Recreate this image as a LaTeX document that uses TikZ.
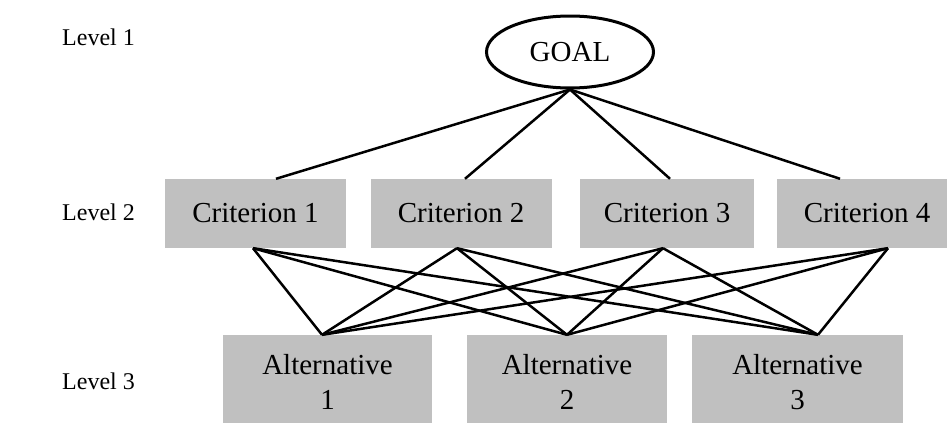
\documentclass[tikz,border=0pt]{standalone}
\usepackage{fontspec}
\setmainfont{Liberation Serif}
\usetikzlibrary{shapes.geometric}
\definecolor{boxgray}{RGB}{192,192,192}
\begin{document}
\begin{tikzpicture}[x=1pt,y=-1pt,
  crit/.style={fill=boxgray, minimum width=181pt, minimum height=69pt, inner sep=0pt, font=\fontsize{29}{34}\selectfont},
  alt/.style={fill=boxgray, minimum width=207pt, minimum height=88pt, inner sep=0pt, align=center, font=\fontsize{29}{35}\selectfont},
  lvl/.style={anchor=west, inner sep=0pt, font=\fontsize{24}{28}\selectfont},
  link/.style={line width=2.5pt, black}
]
\clip (0,0) rectangle (947,423);
\fill[white] (0,0) rectangle (947,423);

% levels
\node[lvl] (l1) at (62,37) {Level 1};
\node[lvl] (l2) at (62,212) {Level 2};
\node[lvl] (l3) at (62,381) {Level 3};

% goal
\node[ellipse, draw, line width=3pt, minimum width=167pt, minimum height=72pt, inner sep=0pt,
      font=\fontsize{29}{34}\selectfont] (goal) at (570,52) {GOAL};

% criteria
\node[crit] (c1) at (255.5,213.5) {Criterion 1};
\node[crit] (c2) at (461,213.5) {Criterion 2};
\node[crit, minimum width=174pt] (c3) at (667,213.5) {Criterion 3};
\node[crit, minimum width=180pt] (c4) at (867,213.5) {Criterion 4};

% alternatives
\node[alt, minimum width=209pt] (a1) at (327.5,379) {};
\node[alt, minimum width=200pt] (a2) at (567,379) {};
\node[alt, minimum width=211pt] (a3) at (797.5,379) {};
\node[align=center, inner sep=0pt, font=\fontsize{29}{35}\selectfont] (a1x) at ([yshift=-3pt]a1.center) {Alternative\\1};
\node[align=center, inner sep=0pt, font=\fontsize{29}{35}\selectfont] (a2x) at ([yshift=-3pt]a2.center) {Alternative\\2};
\node[align=center, inner sep=0pt, font=\fontsize{29}{35}\selectfont] (a3x) at ([yshift=-3pt]a3.center) {Alternative\\3};

% attach points
\coordinate (c1t) at ([xshift=20.5pt]c1.north);
\coordinate (c2t) at ([xshift=4pt]c2.north);
\coordinate (c3t) at ([xshift=3pt]c3.north);
\coordinate (c4t) at ([xshift=-27pt]c4.north);
\coordinate (c1b) at ([xshift=-2.5pt]c1.south);
\coordinate (c2b) at ([xshift=-4pt]c2.south);
\coordinate (c3b) at ([xshift=-4pt]c3.south);
\coordinate (c4b) at ([xshift=21pt]c4.south);
\coordinate (a1t) at ([xshift=-5.5pt]a1.north);
\coordinate (a2t) at (a2.north);
\coordinate (a3t) at ([xshift=20.5pt]a3.north);

% goal to criteria
\foreach \c in {c1t,c2t,c3t,c4t}
  \draw[link] (goal.south) -- (\c);

% criteria to alternatives
\foreach \c in {c1b,c2b,c3b,c4b}
  \foreach \a in {a1t,a2t,a3t}
    \draw[link] (\c) -- (\a);
\end{tikzpicture}
\end{document}
